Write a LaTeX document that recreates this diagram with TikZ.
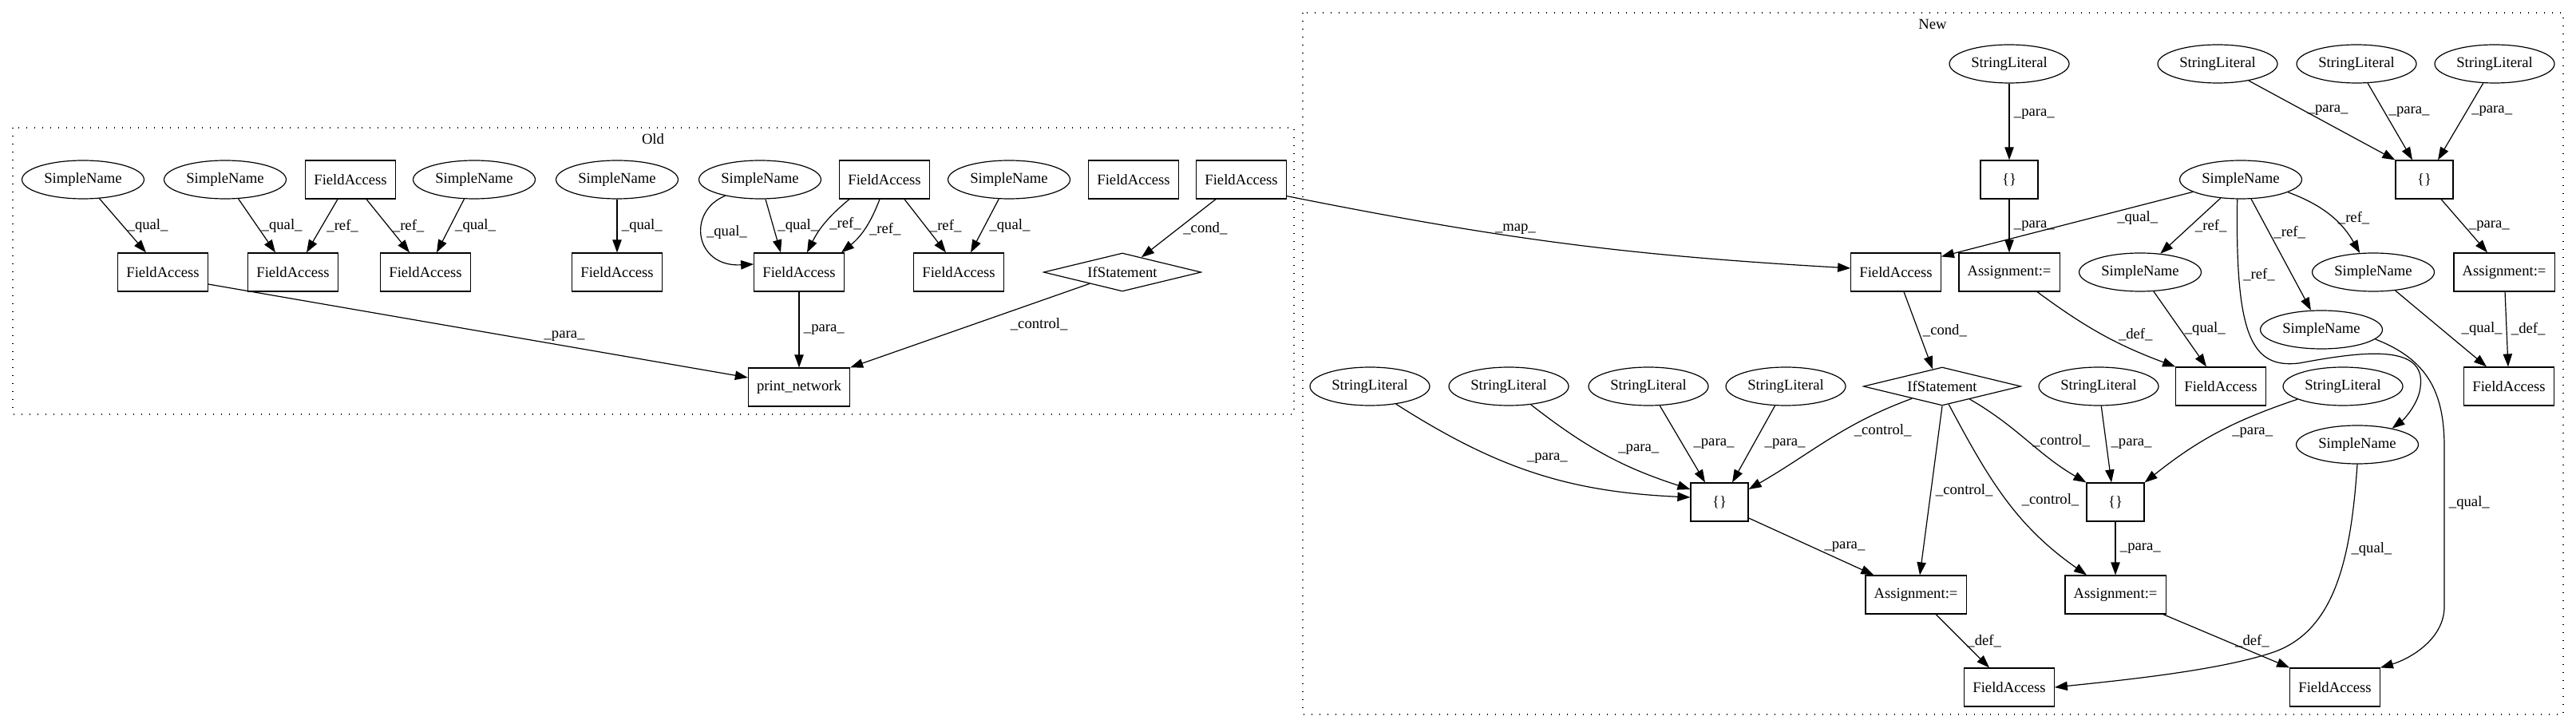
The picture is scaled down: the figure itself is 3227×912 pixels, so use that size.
\documentclass[tikz,border=0pt]{standalone}
\usepackage{fontspec}
\setmainfont{Liberation Serif}
\usetikzlibrary{arrows.meta,shapes.geometric,calc}

\begin{document}
\begin{tikzpicture}[x=0.75pt,y=0.75pt,line width=0.9pt,
	font=\fontsize{14}{16}\selectfont,
	sname/.style={draw,ellipse,inner xsep=4pt,inner ysep=0pt,minimum height=36pt},
	fbox/.style={draw,rectangle,inner xsep=8pt,minimum height=36pt,minimum width=54pt},
	ifnode/.style={draw,diamond,shape aspect=4,inner sep=0pt,minimum width=148pt,minimum height=36pt},
	edge/.style={-{Triangle[length=12pt,width=8.5pt]}},
	lbl/.style={inner sep=4pt},
	cluster/.style={dash pattern=on 1pt off 6.5pt}]

	\useasboundingbox (0,0) rectangle (3227,-912);

	\draw[cluster] (16,-160) rectangle (1621,-519);
	\node (oldlabel) at (818,-174) {Old};
	\draw[cluster] (1632,-16) rectangle (3211,-895);
	\node (newlabel) at (2421,-30) {New};

	\node[sname] (sna) at (104,-225) {SimpleName};
	\node[sname] (snb) at (282,-225) {SimpleName};
	\node[fbox] (fax) at (439,-225) {FieldAccess};
	\node[sname] (snc) at (594,-225) {SimpleName};
	\node[sname] (snd) at (773,-225) {SimpleName};
	\node[sname] (sne) at (952,-225) {SimpleName};
	\node[fbox] (fay) at (1108,-225) {FieldAccess};
	\node[sname] (snf) at (1264,-225) {SimpleName};
	\node[fbox] (faz) at (1420,-225) {FieldAccess};
	\node[fbox] (faw) at (1555,-225) {FieldAccess};

	\node[fbox] (faa) at (204,-341) {FieldAccess};
	\node[fbox] (fab) at (367,-341) {FieldAccess};
	\node[fbox] (fac) at (533,-341) {FieldAccess};
	\node[fbox] (fad) at (773,-341) {FieldAccess};
	\node[fbox] (fae) at (1001,-341) {FieldAccess};
	\node[fbox] (faf) at (1201,-341) {FieldAccess};
	\node[ifnode] (ifo) at (1406,-341) {IfStatement};
	\node[fbox] (print) at (1001,-485) {print\_network};

	\node[sname] (sl1) at (2517,-80) {StringLiteral};
	\node[sname] (sl2) at (2778,-80) {StringLiteral};
	\node[sname] (sl3) at (2952,-80) {StringLiteral};
	\node[sname] (sl4) at (3125,-80) {StringLiteral};
	\node[fbox] (br1) at (2517,-225) {\{\}};
	\node[sname] (snx) at (2807,-225) {SimpleName};
	\node[fbox] (br2) at (3037,-225) {\{\}};
	\node[fbox] (fan) at (2375,-341) {FieldAccess};
	\node[fbox] (asg1) at (2517,-341) {Assignment:=};
	\node[sname] (sny) at (2681,-341) {SimpleName};
	\node[sname] (snz) at (2973,-341) {SimpleName};
	\node[fbox] (asg2) at (3137,-341) {Assignment:=};
	\node[sname] (snm) at (2908,-413) {SimpleName};

	\node[sname] (sl5) at (1716,-484) {StringLiteral};
	\node[sname] (sl6) at (1890,-484) {StringLiteral};
	\node[sname] (sl7) at (2065,-484) {StringLiteral};
	\node[sname] (sl8) at (2237,-484) {StringLiteral};
	\node[ifnode] (ifn) at (2433,-484) {IfStatement};
	\node[sname] (sl9) at (2629,-484) {StringLiteral};
	\node[fbox] (fam) at (2782,-484) {FieldAccess};
	\node[sname] (sl10) at (2935,-484) {StringLiteral};
	\node[fbox] (far) at (3143,-484) {FieldAccess};
	\node[sname] (snn) at (2953,-557) {SimpleName};
	\node[fbox] (br3) at (2154,-629) {\{\}};
	\node[fbox] (br4) at (2650,-629) {\{\}};
	\node[fbox] (asg3) at (2400,-745) {Assignment:=};
	\node[fbox] (asg4) at (2650,-745) {Assignment:=};
	\node[fbox] (fab1) at (2517,-861) {FieldAccess};
	\node[fbox] (fab2) at (2925,-861) {FieldAccess};

	\draw[edge] (sna) -- node[lbl,right] {\_qual\_} ($(faa.north)+(-21,0)$);
	\draw[edge] (snb) -- node[lbl,right] {\_qual\_} ($(fab.north)+(-22,0)$);
	\draw[edge] ($(fax.south)+(-16,0)$) -- node[lbl,right] {\_ref\_} ($(fab.north)+(17,0)$);
	\draw[edge] ($(fax.south)+(20,0)$) -- node[lbl,right] {\_ref\_} ($(fac.north)+(-20,0)$);
	\draw[edge] (snc) -- node[lbl,right] {\_qual\_} ($(fac.north)+(14,0)$);
	\draw[edge] (snd) -- node[lbl,right] {\_qual\_} (fad);
	\draw[edge] (sne.205) .. controls (860,-265) and (870,-335) .. node[lbl,right,pos=0.45] {\_qual\_} (fae.170);
	\draw[edge] (sne) -- node[lbl,right] {\_qual\_} ($(fae.north)+(-23,0)$);
	\draw[edge] ($(fay.south)+(-44,0)$) to[bend right=12] node[lbl,right] {\_ref\_} ($(fae.north)+(10,0)$);
	\draw[edge] ($(fay.south)+(-6,0)$) to[bend left=15] node[lbl,right] {\_ref\_} ($(fae.north)+(53,0)$);
	\draw[edge] ($(fay.south)+(25,0)$) -- node[lbl,right] {\_ref\_} ($(faf.north)+(-16,0)$);
	\draw[edge] (snf) -- node[lbl,right] {\_qual\_} ($(faf.north)+(15,0)$);
	\draw[edge] ($(faw.south)+(-32,0)$) -- node[lbl,right] {\_cond\_} (ifo);
	\draw[edge] ($(faa.east)+(0,-15)$) -- node[lbl,above,pos=0.66] {\_para\_} ($(print.west)+(0,12)$);
	\draw[edge] (fae) -- node[lbl,right] {\_para\_} (print);
	\draw[edge] (ifo) -- node[lbl,below right,pos=0.35] {\_control\_} (print.north east);
	\draw[edge] ($(faw.south east)+(0,4)$) to[bend right=4] node[lbl,above=-2pt,pos=0.4] {\_map\_} ($(fan.west)+(0,5)$);

	\draw[edge] (sl1) -- node[lbl,right,pos=0.4] {\_para\_} (br1);
	\draw[edge] (br1) -- node[lbl,right] {\_para\_} (asg1);
	\draw[edge] (sl2) -- node[lbl,right,pos=0.37] {\_para\_} (br2.north west);
	\draw[edge] (sl3) -- node[lbl,right,pos=0.37] {\_para\_} ($(br2.north)+(-15,0)$);
	\draw[edge] (sl4) -- node[lbl,right,pos=0.36] {\_para\_} ($(br2.north)+(17,0)$);
	\draw[edge] ($(br2.south)+(21,0)$) -- node[lbl,right] {\_para\_} ($(asg2.north)+(-21,0)$);
	\draw[edge] (asg2) -- node[lbl,right] {\_def\_} (far);
	\draw[edge] (snx) -- node[lbl,below,pos=0.22] {\_qual\_} ($(fan.north east)+(0,-5)$);
	\draw[edge] (snx) -- node[lbl,right] {\_ref\_} (sny);
	\draw[edge] (snx) -- node[lbl,right,pos=0.3] {\_ref\_} (snm);
	\draw[edge] (snx) to[bend left=20] node[lbl,right,pos=0.55] {\_ref\_} (snz);
	\draw[edge] (snx.260) .. controls (2800,-420) and (2820,-462) .. node[lbl,right,pos=0.22] {\_ref\_} (2880,-455) .. controls (2960,-440) and (3040,-430) .. (3032,-485) .. controls (3030,-505) and (3012,-525) .. (snn.25);
	\draw[edge] (snm.-10) .. controls (3040,-450) and (3062,-490) .. (3062,-560) -- node[lbl,right,pos=0.35] {\_qual\_} (3062,-760) .. controls (3062,-800) and (3020,-825) .. (fab2.north east);
	\draw[edge] (sny) -- node[lbl,right] {\_qual\_} ($(fam.north)+(-18,0)$);
	\draw[edge] ($(asg1.south)+(35,0)$) to[bend right=8] node[lbl,right=10pt] {\_def\_} (fam.north west);
	\draw[edge] (snz) -- node[lbl,right=15pt] {\_qual\_} ($(far.north)+(-28,0)$);
	\draw[edge] ($(fan.south)+(10,0)$) -- node[lbl,right] {\_cond\_} ($(ifn.north)+(-12,-3)$);

	\draw[edge] (sl5) to[bend right=15] node[lbl,above right,pos=0.45] {\_para\_} ($(br3.west)+(0,6)$);
	\draw[edge] (sl6) to[bend right=10] node[lbl,above right,pos=0.55] {\_para\_} ($(br3.west)+(0,16)$);
	\draw[edge] (sl7) -- node[lbl,right=6pt] {\_para\_} ($(br3.north)+(-18,0)$);
	\draw[edge] (sl8) -- node[lbl,right=6pt] {\_para\_} ($(br3.north)+(16,0)$);
	\draw[edge] (ifn.-158) to[out=200,in=30] node[lbl,right=6pt,pos=0.4] {\_control\_} ($(br3.east)+(0,16)$);
	\draw[edge] ($(br3.east)+(0,-20)$) -- node[lbl,right=8pt] {\_para\_} ($(asg3.north west)+(11,0)$);
	\draw[edge] (ifn.south) -- node[lbl,right] {\_control\_} ($(asg3.north)+(5,0)$);
	\draw[edge] (ifn.-70) to[out=-62,in=145] node[lbl,right=10pt] {\_control\_} ($(asg4.north)+(-36,0)$);
	\draw[edge] (ifn.-25) to[out=-30,in=150] node[lbl,right] {\_control\_} (br4.north west);
	\draw[edge] (sl9) -- node[lbl,right] {\_para\_} ($(br4.north)+(-5,0)$);
	\draw[edge] (sl10) to[bend right=10] node[lbl,right=10pt] {\_para\_} (br4.north east);
	\draw[edge] (br4) -- node[lbl,right] {\_para\_} (asg4);
	\draw[edge] ($(asg3.south)+(25,0)$) -- node[lbl,right] {\_def\_} ($(fab1.north)+(-25,0)$);
	\draw[edge] ($(asg4.south east)+(-4,0)$) -- node[lbl,right=4pt] {\_def\_} (fab2.north west);
	\draw[edge] (snn.south) .. controls (2945,-700) and (2925,-790) .. node[lbl,right,pos=0.33] {\_qual\_} (2848,-817) .. controls (2780,-840) and (2660,-852) .. (fab1.east);
\end{tikzpicture}
\end{document}
